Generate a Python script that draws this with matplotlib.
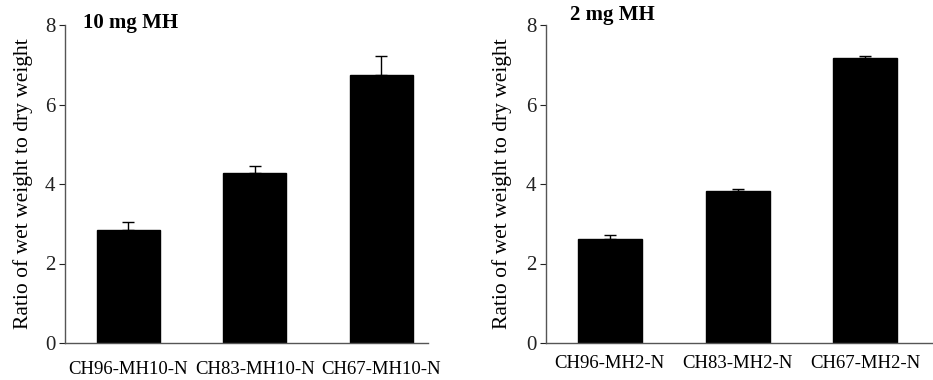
import numpy as np
import matplotlib
matplotlib.use("Agg")
import matplotlib.pyplot as plt

plt.rcParams['font.family'] = ['Liberation Serif', 'DejaVu Serif']

# left panel: 10 mg MH
labels_10 = ['CH96-MH10-N', 'CH83-MH10-N', 'CH67-MH10-N']
ratio_10 = [2.84, 4.27, 6.75]
err_10 = [0.21, 0.18, 0.48]

# right panel: 2 mg MH
labels_2 = ['CH96-MH2-N', 'CH83-MH2-N', 'CH67-MH2-N']
ratio_2 = [2.61, 3.83, 7.18]
err_2 = [0.11, 0.05, 0.05]

yticks = [0, 2, 4, 6, 8]

fig = plt.figure(figsize=(9.33, 3.8), dpi=100)
ax1 = fig.add_axes([65/933, 37/380, 363/933, 318/380])
ax2 = fig.add_axes([546/933, 37/380, 387/933, 318/380])


def panel(ax, labels, vals, errs, title, xmax, title_xy, lab_pad):
    x = np.arange(len(vals))
    ax.bar(x, vals, width=0.5, color='black', edgecolor='black')
    ax.errorbar(x, vals, yerr=[np.zeros(len(errs)), errs], fmt='none',
                ecolor='black', elinewidth=1.0, capsize=4, capthick=1.0)
    ax.set_xlim(-0.5, xmax)
    ax.set_ylim(0, 8)
    ax.set_yticks(yticks)
    ax.set_xticks(x)
    ax.set_xticklabels(labels, fontsize=13.5)
    ax.tick_params(axis='x', length=0, pad=lab_pad)
    ax.tick_params(axis='y', length=4, width=0.8, labelsize=15, pad=3,
                   colors='#222222')
    for s in ['top', 'right']:
        ax.spines[s].set_visible(False)
    for s in ['left', 'bottom']:
        ax.spines[s].set_color('#555555')
        ax.spines[s].set_linewidth(1.0)
    ax.set_ylabel('Ratio of wet weight to dry weight', fontsize=15.5)
    fig.text(title_xy[0], title_xy[1], title, fontsize=15, fontweight='bold',
             ha='left', va='center')


panel(ax1, labels_10, ratio_10, err_10, '10 mg MH', 2.37, (83/933, 1 - 23/380), 13)
panel(ax2, labels_2, ratio_2, err_2, '2 mg MH', 2.53, (570/933, 1 - 15/380), 9)

ax1.yaxis.set_label_coords(-0.088, 0.5)
ax2.yaxis.set_label_coords(-0.087, 0.5)

fig.savefig('out.png', dpi=100)
